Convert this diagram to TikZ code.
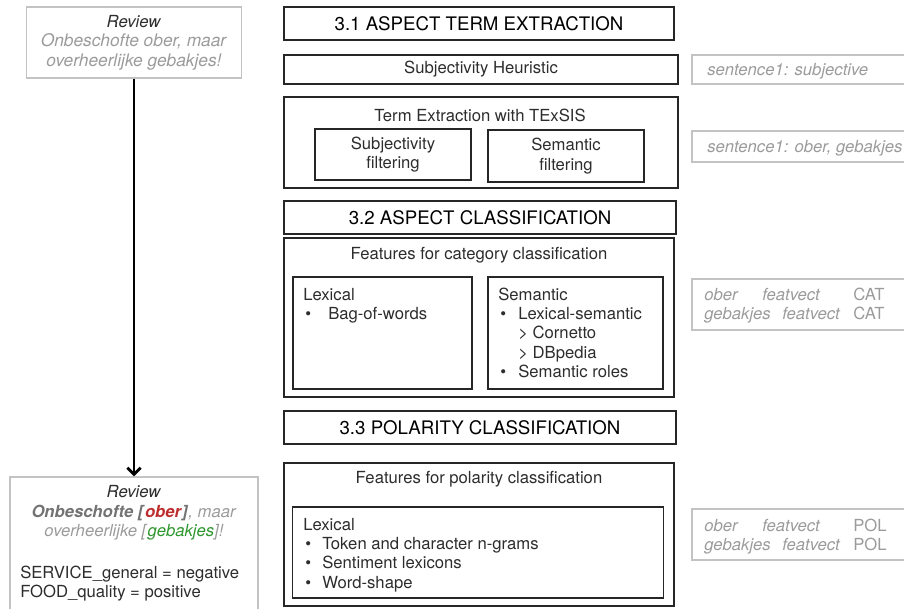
\documentclass[tikz,border=0pt]{standalone}
\usepackage{fontspec}
\setmainfont{TeX Gyre Heros}
\usetikzlibrary{arrows.meta}
\definecolor{lightgrey}{RGB}{155,155,155}
\definecolor{boxgrey}{RGB}{195,195,195}
\definecolor{darkgrey}{RGB}{115,115,115}
\definecolor{bodytext}{RGB}{45,45,45}
\definecolor{oberred}{RGB}{190,45,45}
\definecolor{gebgreen}{RGB}{45,150,45}
\newcommand{\bul}[1]{\makebox[#1][l]{\kern1.5pt\textbullet}}
\newcommand{\ind}[1]{\makebox[#1][l]{}}
\newcommand{\txtlines}[1]{\begin{tabular}[t]{@{}l@{}}#1\end{tabular}}

\begin{document}
\begin{tikzpicture}[x=0.75pt, y=-0.75pt,
    sz/.style 2 args={minimum width=#1*0.75pt, minimum height=#2*0.75pt},
    blackbox/.style={draw=black!85, line width=0.8pt, inner sep=0pt},
    greybox/.style={draw=boxgrey, line width=0.8pt, inner sep=0pt},
    txt/.style={font=\fontsize{12.5}{14.6}\selectfont, text=bodytext, inner sep=0pt},
    title/.style={font=\fontsize{14}{16}\selectfont, text=black, inner sep=0pt},
    outtxt/.style={txt, text=lightgrey, anchor=base west}]
\useasboundingbox (0,0) rectangle (904,608);

% review, before and after
\node[greybox, txt, align=center, sz={215}{71}] (rev1) at (134,42.5)
    {\textit{Review}\\\textcolor{lightgrey}{\fontsize{13}{15}\selectfont\textit{Onbeschofte ober, maar}}\\\textcolor{lightgrey}{\fontsize{13}{15}\selectfont\textit{overheerlijke gebakjes!}}};
\node[greybox, sz={248}{140}] (rev2) at (134,547) {};
\node[txt, align=center] (rev2head) at (134,513)
    {\textit{Review}\\
     \textcolor{darkgrey}{\textbf{\textit{Onbeschofte [}}}\textcolor{oberred}{\textbf{\textit{ober}}}\textcolor{darkgrey}{\textbf{\textit{]}}}\textcolor{lightgrey}{\textit{, maar}}\\
     \textcolor{lightgrey}{\textit{overheerlijke [}}\textcolor{gebgreen}{\textit{gebakjes}}\textcolor{lightgrey}{\textit{]!}}};
\node[txt, anchor=base west] (rev2lab) at (20,578) {\txtlines{SERVICE\_general = negative\\FOOD\_quality = positive}};
\draw[line width=2.2pt, -{Straight Barb[length=5pt, width=10pt]}] (rev1) -- (rev2);

% 3.1
\node[blackbox, title, sz={390}{33}] (t31) at (479,23.5) {3.1 ASPECT TERM EXTRACTION};
\node[blackbox, txt, sz={394}{29}] (subjh) at (481,69.5) {Subjectivity Heuristic};
\node[blackbox, sz={394}{91}] (termx) at (481,142.5) {};
\node[txt] (termxlab) at (480,115) {Term Extraction with TExSIS};
\node[blackbox, txt, align=center, sz={156}{51}] (subjf) at (393,154.5) {Subjectivity\\filtering};
\node[blackbox, txt, align=center, sz={156}{52}] (semf) at (566,156) {Semantic\\filtering};

% 3.2
\node[blackbox, title, sz={392}{33}] (t32) at (480,217.5) {3.2 ASPECT CLASSIFICATION};
\node[blackbox, sz={390}{159}] (featcat) at (479,317.5) {};
\node[txt] (featcatlab) at (479,255) {Features for category classification};
\node[blackbox, sz={179}{112}] (lexcat) at (382.5,333) {};
\node[txt, anchor=base west] (lexcatlist) at (303,300) {\txtlines{Lexical\\\bul{18.75pt}Bag-of-words}};
\node[blackbox, sz={175}{112}] (semcat) at (575.5,333) {};
\node[txt, anchor=base west] (semcatlist) at (498,300)
    {\txtlines{Semantic\\\bul{15pt}Lexical-semantic\\\ind{15pt}> Cornetto\\\ind{15pt}> DBpedia\\\bul{15pt}Semantic roles}};

% 3.3
\node[blackbox, title, sz={392}{33}] (t33) at (480,427.5) {3.3 POLARITY CLASSIFICATION};
\node[blackbox, sz={390}{143}] (featpol) at (479,534.5) {};
\node[txt] (featpollab) at (479,479) {Features for polarity classification};
\node[blackbox, sz={371}{91}] (lexpol) at (478,552.5) {};
\node[txt, anchor=base west] (lexpollist) at (303,530)
    {\txtlines{Lexical\\\bul{14.25pt}Token and character n-grams\\\bul{14.25pt}Sentiment lexicons\\\bul{14.25pt}Word-shape}};

% output per step
\node[greybox, sz={222}{29}] (out1) at (803,69.5) {};
\node[outtxt] (out1txt) at (707,75) {\textit{sentence1: subjective}};
\node[greybox, sz={222}{31}] (out2) at (803,146.5) {};
\node[outtxt] (out2txt) at (707,152) {\textit{sentence1: ober, gebakjes}};
\node[greybox, sz={222}{51}] (out3) at (803,304.5) {};
\node[outtxt] (out3txt) at (704,300)
    {\txtlines{\makebox[43.5pt][l]{\textit{ober}}\makebox[68.25pt][l]{\textit{featvect}}CAT\\\makebox[58.5pt][l]{\textit{gebakjes}}\makebox[53.25pt][l]{\textit{featvect}}CAT}};
\node[greybox, sz={222}{51}] (out4) at (803,534.5) {};
\node[outtxt] (out4txt) at (704,531)
    {\txtlines{\makebox[43.5pt][l]{\textit{ober}}\makebox[68.25pt][l]{\textit{featvect}}POL\\\makebox[58.5pt][l]{\textit{gebakjes}}\makebox[53.25pt][l]{\textit{featvect}}POL}};
\end{tikzpicture}
\end{document}
